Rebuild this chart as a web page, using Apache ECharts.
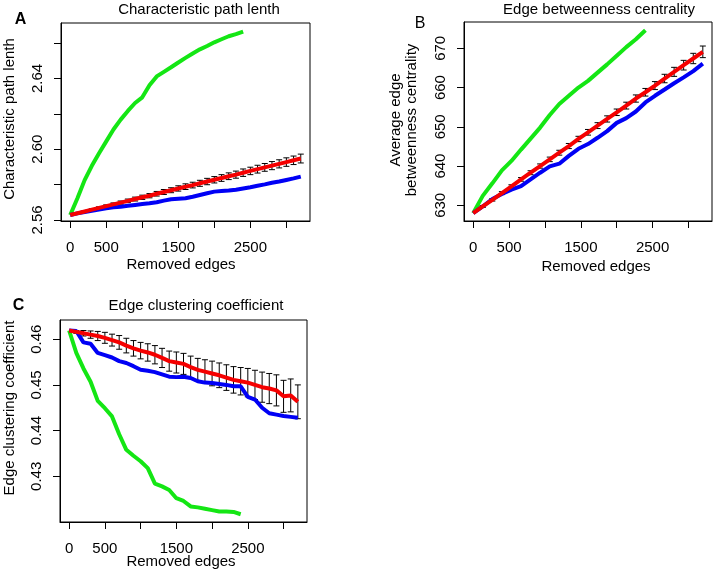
<!DOCTYPE html>
<html>
<head>
<meta charset="utf-8">
<script src="https://cdn.jsdelivr.net/npm/echarts@6/dist/echarts.min.js"></script>
<style>
html,body{margin:0;padding:0;background:#fff;}
#chart{width:713px;height:572px;}
</style>
</head>
<body>
<div id="chart"></div>
<script>
// ---------- data ----------
const edges = [0,100,200,300,400,500,600,700,800,900,1000,1100,1200,1300,1400,1500,1600,1700,1800,1900,2000,2100,2200,2300,2400,2500,2600,2700,2800,2900,3000,3100,3200];
const greenEdges = [0,100,200,300,400,500,600,700,800,900,1000,1100,1200,1300,1400,1500,1600,1700,1800,1900,2000,2100,2200,2300,2400];
const edgesB = [0,133,267,400,533,667,800,933,1067,1200,1333,1467,1600,1733,1867,2000,2133,2267,2400,2533,2667,2800,2933,3067,3200];
const greenEdgesB = [0,133,267,400,533,667,800,933,1067,1200,1333,1467,1600,1733,1867,2000,2133,2267,2400];
const xTicks = [0,500,1000,1500,2000,2500,3000];
const xLabels = [0,500,1500,2500];

// Panel A: characteristic path length
const pathGreen = [2.5628,2.5723,2.5825,2.5906,2.5977,2.6044,2.6111,2.6167,2.6216,2.6261,2.6293,2.6361,2.6411,2.6437,2.6463,2.6490,2.6516,2.6541,2.6564,2.6583,2.6604,2.6621,2.6638,2.6650,2.6664];
const pathBlue = [2.5628,2.5637,2.5645,2.5652,2.5659,2.5666,2.5671,2.5675,2.5680,2.5685,2.5690,2.5694,2.5700,2.5709,2.5717,2.5720,2.5723,2.5731,2.5741,2.5751,2.5760,2.5763,2.5766,2.5771,2.5778,2.5785,2.5793,2.5801,2.5810,2.5817,2.5826,2.5835,2.5845];
const pathRed = [2.5628,2.5638,2.5648,2.5658,2.5668,2.5678,2.5688,2.5698,2.5708,2.5718,2.5728,2.5737,2.5748,2.5758,2.5768,2.5778,2.5788,2.5797,2.5807,2.5817,2.5827,2.5837,2.5847,2.5856,2.5867,2.5877,2.5887,2.5897,2.5907,2.5917,2.5927,2.5937,2.5947];
const pathErr = [0,0.0002,0.0004,0.0005,0.0006,0.0007,0.0008,0.0009,0.0010,0.0011,0.0012,0.0012,0.0013,0.0014,0.0014,0.0015,0.0016,0.0016,0.0017,0.0018,0.0018,0.0019,0.0019,0.0020,0.0021,0.0021,0.0022,0.0022,0.0023,0.0023,0.0024,0.0024,0.0025];
const pathTicks = [2.56,2.58,2.60,2.62,2.64,2.66];
const pathLabels = [2.56,2.60,2.64];

// Panel B: edge betweenness centrality
const betwGreen = [628.0,632.4,635.6,638.9,641.3,644.2,647.0,649.8,653.0,655.8,657.9,660.0,661.7,663.8,665.9,668.1,670.3,672.3,674.6];
const betwBlue = [628.0,629.7,631.6,632.9,634.0,634.9,636.6,638.3,639.9,640.6,642.6,644.4,645.6,647.2,648.9,651.0,652.2,653.9,656.2,657.9,659.5,661.1,662.6,664.2,666.1];
const betwRed = [628.0,629.7,631.4,633.1,634.8,636.6,638.3,640.0,641.7,643.4,645.1,646.9,648.6,650.3,652.0,653.7,655.4,657.2,658.8,660.5,662.3,664.0,665.7,667.4,669.1];
const betwErr = [0,0.25,0.32,0.38,0.42,0.46,0.5,0.54,0.58,0.62,0.65,0.68,0.72,0.75,0.79,0.83,0.87,0.92,0.97,1.02,1.08,1.15,1.23,1.32,1.48];
const betwTicks = [630,640,650,660,670];

// Panel C: edge clustering coefficient
const clustGreen = [0.4619,0.4570,0.4536,0.4507,0.4465,0.4449,0.4431,0.4392,0.4358,0.4345,0.4333,0.4318,0.4284,0.4278,0.4270,0.4252,0.4246,0.4234,0.4232,0.4229,0.4226,0.4223,0.4223,0.4222,0.4217];
const clustBlue = [0.4619,0.4618,0.4593,0.4590,0.4570,0.4565,0.4560,0.4552,0.4548,0.4541,0.4533,0.4531,0.4528,0.4523,0.4518,0.4517,0.4518,0.4515,0.4508,0.4505,0.4504,0.4502,0.4500,0.4497,0.4497,0.4474,0.4468,0.4450,0.4438,0.4435,0.4432,0.4430,0.4428];
const clustRed = [0.4619,0.4616,0.4613,0.4610,0.4607,0.4603,0.4598,0.4593,0.4586,0.4580,0.4575,0.4571,0.4566,0.4559,0.4552,0.4549,0.4546,0.4539,0.4533,0.4529,0.4525,0.4521,0.4516,0.4511,0.4508,0.4505,0.4500,0.4495,0.4492,0.4488,0.4475,0.4477,0.4463];
const clustErr = [0,0.0003,0.0006,0.0008,0.0010,0.0012,0.0013,0.0015,0.0016,0.0017,0.0018,0.0019,0.0020,0.0021,0.0022,0.0023,0.0023,0.0024,0.0025,0.0026,0.0027,0.0027,0.0028,0.0029,0.0030,0.0031,0.0032,0.0033,0.0033,0.0034,0.0035,0.0036,0.0037];
const clustTicks = [0.43,0.44,0.45,0.46];

// ---------- chart ----------
const FONT = '"Liberation Sans", Arial, Helvetica, sans-serif';
const GREEN = '#14e614', BLUE = '#0000f5', RED = '#f50000';

const panels = [
  {grid:{left:61, top:23, width:249, height:198}, ymin:2.5594, ymax:2.6713, yTicks:pathTicks, yLabels:pathLabels,
   x:edges, gx:greenEdges, g:pathGreen, b:pathBlue, r:pathRed, e:pathErr, fmt:v=>v.toFixed(2)},
  {grid:{left:464, top:22, width:248, height:199}, ymin:626.0, ymax:676.7, yTicks:betwTicks, yLabels:betwTicks,
   x:edgesB, gx:greenEdgesB, g:betwGreen, b:betwBlue, r:betwRed, e:betwErr, fmt:v=>String(v)},
  {grid:{left:60, top:320, width:247, height:202}, ymin:0.4200, ymax:0.4642, yTicks:clustTicks, yLabels:clustTicks,
   x:edges, gx:greenEdges, g:clustGreen, b:clustBlue, r:clustRed, e:clustErr, fmt:v=>v.toFixed(2)}
];

const grids = [], xAxes = [], yAxes = [], series = [];
panels.forEach((p, i) => {
  grids.push(Object.assign({show:true, borderColor:'#000', borderWidth:1, backgroundColor:'#fff'}, p.grid));
  xAxes.push({
    type:'value', gridIndex:i, min:-128, max:3328,
    axisLine:{show:true, onZero:false, lineStyle:{color:'#000', width:1}},
    axisTick:{show:true, length:7, lineStyle:{color:'#000'}, customValues:xTicks},
    axisLabel:{show:true, margin:19, color:'#000', fontSize:15, fontFamily:FONT, customValues:xLabels, formatter:v=>String(v)},
    splitLine:{show:false}
  });
  yAxes.push({
    type:'value', gridIndex:i, min:p.ymin, max:p.ymax,
    axisLine:{show:true, onZero:false, lineStyle:{color:'#000', width:1}},
    axisTick:{show:true, length:7, lineStyle:{color:'#000'}, customValues:p.yTicks},
    axisLabel:{show:true, rotate:90, margin:16, color:'#000', fontSize:15, fontFamily:FONT, customValues:p.yLabels, formatter:p.fmt},
    splitLine:{show:false}
  });
  const lineBase = {type:'line', xAxisIndex:i, yAxisIndex:i, showSymbol:false, symbol:'none', silent:true, animation:false};
  series.push(Object.assign({}, lineBase, {z:2, data:p.gx.map((x,k)=>[x,p.g[k]]), lineStyle:{color:GREEN, width:4}}));
  series.push({
    type:'custom', xAxisIndex:i, yAxisIndex:i, z:3, silent:true, animation:false,
    data: p.x.map((x,k)=>[x, p.r[k], p.e[k]]).filter(d=>d[2]>0),
    encode:{x:0, y:1},
    renderItem:function(params, api){
      const x = api.value(0), m = api.value(1), s = api.value(2);
      const t = api.coord([x, m + s]), b = api.coord([x, m - s]);
      const hw = 3, st = {stroke:'#000', lineWidth:1};
      return {type:'group', children:[
        {type:'line', shape:{x1:t[0], y1:t[1], x2:b[0], y2:b[1]}, style:st},
        {type:'line', shape:{x1:t[0]-hw, y1:t[1], x2:t[0]+hw, y2:t[1]}, style:st},
        {type:'line', shape:{x1:b[0]-hw, y1:b[1], x2:b[0]+hw, y2:b[1]}, style:st}
      ]};
    }
  });
  series.push(Object.assign({}, lineBase, {z:4, data:p.x.map((x,k)=>[x,p.b[k]]), lineStyle:{color:BLUE, width:4}}));
  series.push(Object.assign({}, lineBase, {z:5, data:p.x.map((x,k)=>[x,p.r[k]]), lineStyle:{color:RED, width:4}}));
});

function txt(text, x, y, opts) {
  opts = opts || {};
  return {type:'text', x:x, y:y, rotation:opts.rot || 0, z:10,
    style:{text:text, fill:'#000', font:(opts.weight||'normal') + ' ' + (opts.size||15) + 'px ' + FONT,
      textAlign:'center', textVerticalAlign:'middle', lineHeight:opts.lh || 17}};
}
const R = Math.PI/2;
const graphics = [
  txt('Characteristic path lenth', 199, 10),
  txt('Edge betweenness centrality', 599, 10),
  txt('Edge clustering coefficient', 196, 306),
  txt('A', 20.5, 20, {weight:'bold', size:16}),
  txt('B', 420, 24, {size:16}),
  txt('C', 18.5, 306, {weight:'bold', size:16}),
  txt('Removed edges', 181, 265),
  txt('Removed edges', 596, 267),
  txt('Removed edges', 181, 562),
  txt('Characteristic path lenth', 9.5, 119, {rot:R}),
  txt('Average edge\nbetweenness centrality', 404, 120, {rot:R, lh:16}),
  txt('Edge clustering coefficient', 9.5, 408, {rot:R})
];

const chart = echarts.init(document.getElementById('chart'), null, {renderer:'canvas'});
chart.setOption({
  animation:false,
  backgroundColor:'#fff',
  grid:grids, xAxis:xAxes, yAxis:yAxes, series:series,
  graphic:graphics
});
</script>
</body>
</html>
